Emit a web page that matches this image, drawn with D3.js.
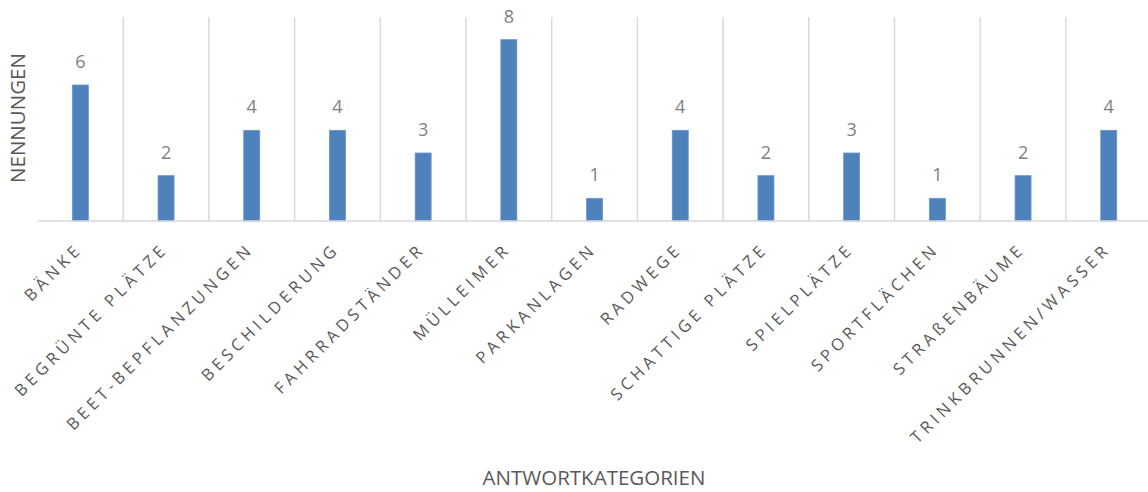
<!DOCTYPE html>
<html>
<head>
<meta charset="utf-8">
<script src="https://cdn.jsdelivr.net/npm/d3@7"></script>
<style>
  html, body { margin: 0; padding: 0; background: #fff; }
  svg { display: block; }
</style>
</head>
<body>
<svg id="chart" width="1148" height="492"></svg>
<script>
// Antwortkategorien und Anzahl der Nennungen
const categories = [
  "Bänke", "Begrünte Plätze", "Beet-Bepflanzungen", "Beschilderung",
  "Fahrradständer", "Mülleimer", "Parkanlagen", "Radwege",
  "Schattige Plätze", "Spielplätze", "Sportflächen", "Straßenbäume",
  "Trinkbrunnen/Wasser"
];
const counts = [6, 2, 4, 4, 3, 8, 1, 4, 2, 3, 1, 2, 4];
const yDomain = [0, 9];

// uppercase while keeping "ß" as is
const upper = s => s.split("ß").map(p => p.toUpperCase()).join("ß");

const svg = d3.select("#chart");
const margin = { left: 37.5, top: 17, bottom: 221 };
const plotRight = 37.5 + 13 * 85.7;
const font = "'Open Sans', sans-serif";

const x = d3.scaleBand().domain(categories).range([margin.left, plotRight]).paddingInner(0).paddingOuter(0);
const y = d3.scaleLinear().domain(yDomain).range([margin.bottom, margin.top]);

// vertical gridlines between categories
const bounds = categories.slice(1).map(c => x(c));
svg.append("g").selectAll("line").data(bounds).join("line")
  .attr("x1", d => d).attr("x2", d => d)
  .attr("y1", y(yDomain[1])).attr("y2", y(0))
  .attr("stroke", "#d9d9d9").attr("stroke-width", 1.5);

// bars
const barW = 16;
svg.append("g").selectAll("rect").data(categories).join("rect")
  .attr("x", d => x(d) + x.bandwidth() / 2 - barW / 2)
  .attr("width", barW)
  .attr("y", (d, i) => y(counts[i]))
  .attr("height", (d, i) => y(0) - y(counts[i]))
  .attr("fill", "#4f81bd")
  .attr("stroke", "#6a96cc").attr("stroke-width", 0.8);

// baseline
svg.append("line")
  .attr("x1", margin.left).attr("x2", plotRight)
  .attr("y1", y(0)).attr("y2", y(0))
  .attr("stroke", "#d9d9d9").attr("stroke-width", 1.5);

// value labels
svg.append("g").selectAll("text").data(categories).join("text")
  .attr("x", d => x(d) + x.bandwidth() / 2)
  .attr("y", (d, i) => y(counts[i]) - 17)
  .attr("text-anchor", "middle")
  .attr("font-family", font).attr("font-size", 18)
  .attr("fill", "#7f7f7f")
  .text((d, i) => counts[i]);

// category labels, rotated
svg.append("g").selectAll("text").data(categories).join("text")
  .attr("transform", d => `translate(${x(d) + x.bandwidth() / 2 + 3},${y(0) + 29}) rotate(-45)`)
  .attr("text-anchor", "end")
  .attr("font-family", font).attr("font-size", 16.5)
  .attr("letter-spacing", "4.2px")
  .attr("fill", "#595959")
  .text(d => upper(d));

// axis titles
svg.append("text")
  .attr("transform", `translate(25,118) rotate(-90)`)
  .attr("text-anchor", "middle")
  .attr("font-family", font).attr("font-size", 20.5)
  .attr("fill", "#595959")
  .text("NENNUNGEN");

svg.append("text")
  .attr("x", 594).attr("y", 485)
  .attr("text-anchor", "middle")
  .attr("font-family", font).attr("font-size", 20.5)
  .attr("fill", "#595959")
  .text("ANTWORTKATEGORIEN");
</script>
</body>
</html>
